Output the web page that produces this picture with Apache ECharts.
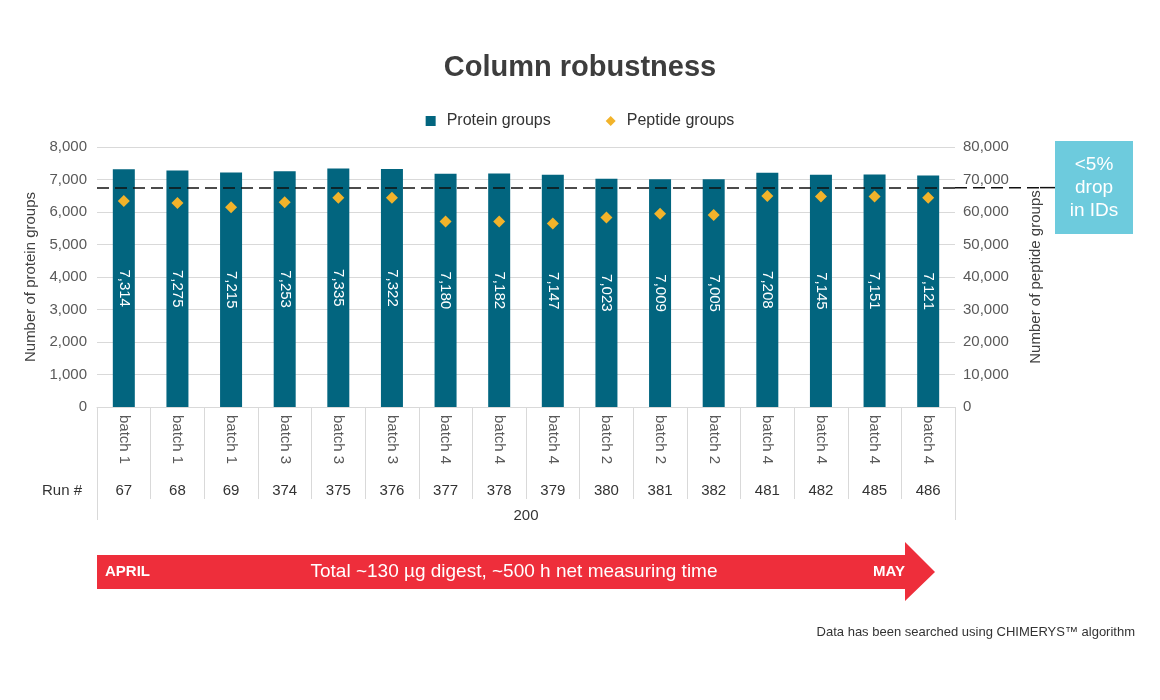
<!DOCTYPE html>
<html><head><meta charset="utf-8">
<script src="https://cdn.jsdelivr.net/npm/echarts@6/dist/echarts.min.js"></script>
<style>html,body{margin:0;padding:0;background:#fff}#c{width:1160px;height:700px}</style>
</head><body><div id="c"></div>
<script>
const batches = ['batch 1','batch 1','batch 1','batch 3','batch 3','batch 3','batch 4','batch 4','batch 4','batch 2','batch 2','batch 2','batch 4','batch 4','batch 4','batch 4'];
const runs = ['67','68','69','374','375','376','377','378','379','380','381','382','481','482','485','486'];
const groupLabel = ['200'];
const proteinGroups = [7314,7275,7215,7253,7335,7322,7180,7182,7147,7023,7009,7005,7208,7145,7151,7121];
const peptideGroups = [63400,62800,61500,63000,64400,64400,57100,57100,56500,58300,59500,59100,64900,64800,64800,64400];
const thresholdLine = 6750;
const leftTicks = {min:0, max:8000, interval:1000};
const rightTicks = {min:0, max:80000, interval:10000};

const FONT = '"Liberation Sans", Arial, sans-serif';
const fmt = v => Number(v).toLocaleString('en-US');
const chart = echarts.init(document.getElementById('c'), null, {renderer:'canvas'});
const grid = {left:97, right:205, top:147, bottom:293};

const option = {
  backgroundColor:'#fff',
  textStyle:{fontFamily:FONT},
  title:{text:'Column robustness', left:'center', top:48,
    textStyle:{fontFamily:FONT, fontSize:29, fontWeight:'bold', color:'#3d3d3d'}},
  legend:{top:108, left:'center', itemGap:55, itemWidth:10, itemHeight:10,
    textStyle:{fontFamily:FONT, fontSize:16, color:'#333', padding:[0,0,0,6]},
    data:[{name:'Protein groups', icon:'rect'},{name:'Peptide groups', icon:'diamond'}]},
  grid:grid,
  xAxis:[
    {type:'category', data:batches, position:'bottom', boundaryGap:true,
      axisLine:{show:true, lineStyle:{color:'#d9d9d9'}},
      axisTick:{show:true, interval:0, length:92, lineStyle:{color:'#d9d9d9'}},
      axisLabel:{interval:0, rotate:-90, margin:8, fontSize:15, color:'#595959', fontFamily:FONT}},
    {type:'category', data:runs, position:'bottom', offset:84, boundaryGap:true,
      axisLine:{show:false}, axisTick:{show:false},
      axisLabel:{interval:0, margin:0, verticalAlign:'middle', fontSize:15, color:'#333', fontFamily:FONT}},
    {type:'category', data:groupLabel, position:'bottom', offset:0, boundaryGap:true,
      axisLine:{show:false},
      axisTick:{show:true, interval:0, length:113, lineStyle:{color:'#d9d9d9'}},
      axisLabel:{interval:0, margin:101, fontSize:15, color:'#333', fontFamily:FONT}}
  ],
  yAxis:[
    {type:'value', position:'left', min:leftTicks.min, max:leftTicks.max, interval:leftTicks.interval,
      axisLine:{show:false}, axisTick:{show:false},
      splitLine:{lineStyle:{color:'#d9d9d9'}},
      axisLabel:{formatter:fmt, fontSize:15, color:'#595959', margin:10, fontFamily:FONT},
      name:'Number of protein groups', nameLocation:'middle', nameRotate:90, nameGap:59,
      nameTextStyle:{fontSize:15, color:'#404040', fontFamily:FONT}},
    {type:'value', position:'right', min:rightTicks.min, max:rightTicks.max, interval:rightTicks.interval,
      axisLine:{show:false}, axisTick:{show:false}, splitLine:{show:false},
      axisLabel:{formatter:fmt, fontSize:15, color:'#595959', margin:8, fontFamily:FONT},
      name:'Number of peptide groups', nameLocation:'middle', nameRotate:90, nameGap:73,
      nameTextStyle:{fontSize:15, color:'#404040', fontFamily:FONT}}
  ],
  series:[
    {name:'Protein groups', type:'bar', xAxisIndex:0, yAxisIndex:0, data:proteinGroups, barWidth:22,
      itemStyle:{color:'#02657f'},
      label:{show:true, position:'inside', rotate:-90, formatter:p=>fmt(p.value),
        color:'#fff', fontSize:15, fontFamily:FONT},
      markLine:{silent:true, symbol:'none', label:{show:false},
        lineStyle:{type:[12,6], color:'#111', width:1.5},
        data:[{yAxis:thresholdLine}]}},
    {name:'Peptide groups', type:'scatter', xAxisIndex:0, yAxisIndex:1, data:peptideGroups,
      symbol:'diamond', symbolSize:12, itemStyle:{color:'#f2b32a', opacity:1}, z:5}
  ],
  animation:false
};
chart.setOption(option);

const yLine = chart.convertToPixel({yAxisIndex:0}, thresholdLine);
const plotRight = 1160 - grid.right;
const runY = 700 - grid.bottom + 84;
const boxX = 1055;
chart.setOption({graphic:[
  {type:'line', shape:{x1:plotRight, y1:yLine, x2:1040, y2:yLine}, style:{stroke:'#111', lineWidth:1.5, lineDash:[12,6]}},
  {type:'line', shape:{x1:1040, y1:yLine, x2:boxX, y2:yLine}, style:{stroke:'#111', lineWidth:1.5}},
  {type:'text', x:grid.left-15, y:runY, style:{text:'Run #', fill:'#333', font:'15px '+FONT, align:'right', verticalAlign:'middle'}},
  {type:'rect', shape:{x:boxX, y:141, width:78, height:93}, style:{fill:'#6dcbdd'}},
  {type:'text', x:boxX+39, y:165, style:{text:'<5%', fill:'#fff', font:'19px '+FONT, align:'center', verticalAlign:'middle'}},
  {type:'text', x:boxX+39, y:188, style:{text:'drop', fill:'#fff', font:'19px '+FONT, align:'center', verticalAlign:'middle'}},
  {type:'text', x:boxX+39, y:211, style:{text:'in IDs', fill:'#fff', font:'19px '+FONT, align:'center', verticalAlign:'middle'}},
  {type:'polygon', shape:{points:[[grid.left,555],[905,555],[905,542],[935,572],[905,601],[905,589],[grid.left,589]]}, style:{fill:'#ee2e3b'}},
  {type:'text', x:105, y:572, style:{text:'APRIL', fill:'#fff', font:'bold 15px '+FONT, verticalAlign:'middle'}},
  {type:'text', x:514, y:572, style:{text:'Total ~130 µg digest, ~500 h net measuring time', fill:'#fff', font:'19px '+FONT, align:'center', verticalAlign:'middle'}},
  {type:'text', x:905, y:572, style:{text:'MAY', fill:'#fff', font:'bold 15px '+FONT, align:'right', verticalAlign:'middle'}},
  {type:'text', x:1135, y:632, style:{text:'Data has been searched using CHIMERYS™ algorithm', fill:'#333', font:'13px '+FONT, align:'right', verticalAlign:'middle'}}
]});
</script></body></html>
